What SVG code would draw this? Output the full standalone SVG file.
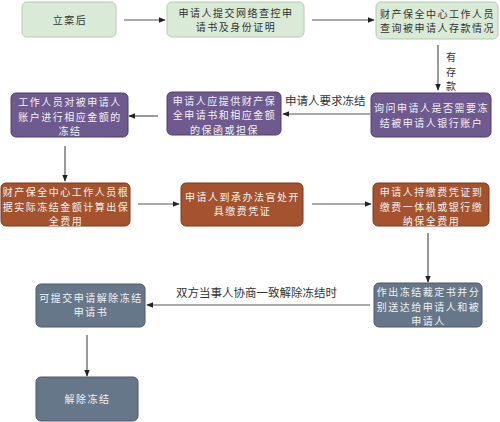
<svg xmlns="http://www.w3.org/2000/svg" width="500" height="422" viewBox="0 0 500 422">
<defs>
<style>
.t{font-family:"Noto Sans CJK SC","Liberation Sans",sans-serif;font-size:10px;letter-spacing:1.5px;text-anchor:middle}
.g rect{fill:#d9ead6;stroke:#b3cdae;stroke-width:1}
.g text{fill:#333}
.p rect{fill:#6e5a8e;stroke:#4e3f6a;stroke-width:1}
.b rect{fill:#a4532e;stroke:#7a3a1e;stroke-width:1}
.s rect{fill:#667789;stroke:#4d5a68;stroke-width:1}
.p text,.b text,.s text{fill:#f2f2f2}
.c line{stroke:#555;stroke-width:1.2;marker-end:url(#ah)}
.lbl{font-family:"Noto Sans CJK SC","Liberation Sans",sans-serif;font-size:11.5px;fill:#333}
.v{font-family:"Noto Sans CJK SC","Liberation Sans",sans-serif;font-size:10px;fill:#333}
</style>
<marker id="ah" viewBox="0 0 10 10" refX="9" refY="5" markerWidth="6" markerHeight="6" orient="auto"><path d="M0,1 L10,5 L0,9 z" fill="#222"/></marker>
</defs>
<rect width="500" height="422" fill="#fff"/>
<g id="connectors" class="c">
<line x1="124" y1="20" x2="165" y2="20"/>
<line x1="312" y1="20" x2="374" y2="20"/>
<line x1="438" y1="45" x2="438" y2="90"/>
<line x1="370" y1="114" x2="283" y2="114"/>
<line x1="158" y1="116" x2="129" y2="116"/>
<line x1="65" y1="146" x2="65" y2="181"/>
<line x1="138" y1="204" x2="179" y2="204"/>
<line x1="312" y1="204" x2="371" y2="204"/>
<line x1="428" y1="233" x2="428" y2="282"/>
<line x1="370" y1="305" x2="147" y2="305"/>
<line x1="87" y1="335" x2="87" y2="376"/>
</g>
<text class="v" x="446" y="61">有</text>
<text class="v" x="446" y="75.5">存</text>
<text class="v" x="446" y="90">款</text>
<text class="lbl" x="285" y="105">申请人要求冻结</text>
<text class="lbl" x="176" y="297">双方当事人协商一致解除冻结时</text>
<g id="n1" class="g"><rect x="22" y="2" width="94" height="35" rx="5"/><text class="t" x="70" y="23.5">立案后</text></g>
<g id="n2" class="g"><rect x="167" y="2" width="137" height="35" rx="5"/><text class="t" x="236" y="16.5">申请人提交网络查控申</text><text class="t" x="236" y="31">请书及身份证明</text></g>
<g id="n3" class="g"><rect x="376" y="2" width="122" height="37" rx="5"/><text class="t" x="437.5" y="17.5">财产保全中心工作人员</text><text class="t" x="437.5" y="32">查询被申请人存款情况</text></g>
<g id="n4" class="p"><rect x="371" y="93" width="120" height="44" rx="5"/><text class="t" x="431.5" y="112">询问申请人是否需要冻</text><text class="t" x="431.5" y="126.5">结被申请人银行账户</text></g>
<g id="n5" class="p"><rect x="167" y="92" width="114" height="43" rx="5"/><text class="t" x="224.5" y="104.5">申请人应提供财产保</text><text class="t" x="224.5" y="119">全申请书和相应金额</text><text class="t" x="224.5" y="133.5">的保函或担保</text></g>
<g id="n6" class="p"><rect x="11" y="93" width="117" height="44" rx="5"/><text class="t" x="70" y="106">工作人员对被申请人</text><text class="t" x="70" y="120.5">账户进行相应金额的</text><text class="t" x="70" y="135">冻结</text></g>
<g id="n7" class="b"><rect x="1" y="183" width="129" height="43" rx="5"/><text class="t" x="66" y="196">财产保全中心工作人员根</text><text class="t" x="66" y="210.5">据实际冻结金额计算出保</text><text class="t" x="66" y="225">全费用</text></g>
<g id="n8" class="b"><rect x="181" y="183" width="122" height="43" rx="5"/><text class="t" x="242.5" y="200.5">申请人到承办法官处开</text><text class="t" x="242.5" y="215">具缴费凭证</text></g>
<g id="n9" class="b"><rect x="373" y="183" width="116" height="43" rx="5"/><text class="t" x="431.5" y="196">申请人持缴费凭证到</text><text class="t" x="431.5" y="210.5">缴费一体机或银行缴</text><text class="t" x="431.5" y="225">纳保全费用</text></g>
<g id="n10" class="s"><rect x="374" y="283" width="108" height="44" rx="5"/><text class="t" x="428.5" y="296">作出冻结裁定书并分</text><text class="t" x="428.5" y="310.5">别送达给申请人和被</text><text class="t" x="428.5" y="325">申请人</text></g>
<g id="n11" class="s"><rect x="36" y="284" width="109" height="43" rx="5"/><text class="t" x="91" y="301.5">可提交申请解除冻结</text><text class="t" x="91" y="316">申请书</text></g>
<g id="n12" class="s"><rect x="36" y="377" width="102" height="44" rx="5"/><text class="t" x="87.5" y="403">解除冻结</text></g>
</svg>
